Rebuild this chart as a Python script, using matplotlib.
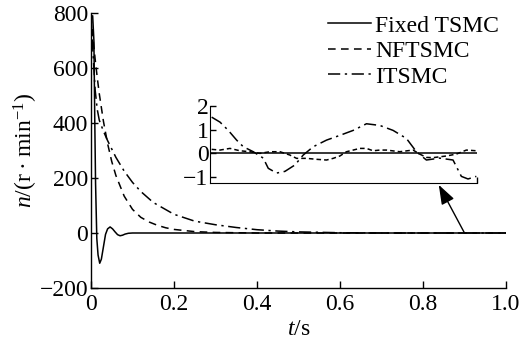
import matplotlib
matplotlib.use("Agg")
import matplotlib.pyplot as plt
import numpy as np

plt.rcParams['font.family'] = ['Liberation Serif', 'DejaVu Serif']
plt.rcParams['mathtext.fontset'] = 'custom'
plt.rcParams['mathtext.rm'] = 'Liberation Serif'
plt.rcParams['mathtext.it'] = 'Liberation Serif:italic'
plt.rcParams['font.size'] = 17

# ---- main data ----
t_fixed = [0, 0.004, 0.007, 0.009, 0.011, 0.014, 0.017, 0.021, 0.025, 0.03, 0.035,
           0.04, 0.046, 0.052, 0.058, 0.064, 0.07, 0.076, 0.082, 0.09, 0.1, 1.0]
n_fixed = [780, 790, 700, 420, 180, -20, -80, -110, -95, -50, -5,
           15, 22, 15, 4, -6, -10, -8, -4, -1, 0, 0]

t_nft = [0, 0.005, 0.01, 0.015, 0.02, 0.03, 0.04, 0.05, 0.06, 0.08, 0.1, 0.12,
         0.14, 0.16, 0.18, 0.2, 0.25, 0.3, 0.35, 0.4, 0.5, 1.0]
n_nft = [790, 708, 632, 566, 506, 406, 325, 260, 209, 134, 86, 57,
         40, 28, 19, 13, 5, 2, 1, 0, 0, 0]

t_its = [0, 0.005, 0.01, 0.015, 0.02, 0.03, 0.04, 0.06, 0.08, 0.1, 0.12, 0.15,
         0.2, 0.25, 0.3, 0.35, 0.4, 0.45, 0.5, 0.6, 0.7, 1.0]
n_its = [790, 650, 520, 450, 410, 370, 336, 275, 225, 184, 151, 111,
         68, 43, 30, 20, 12, 7, 4, 1, 0, 0]

# ---- inset data (position in zoom window, value) ----
z_its_x = [35, 60, 85, 110, 130, 160, 190, 205, 230, 255, 285, 310, 340, 380, 420,
           460, 500, 540, 580, 620, 650, 680, 720, 760, 785, 805, 830]
z_its_y = [1.53, 1.32, 0.97, 0.56, 0.28, 0.07, -0.2, -0.63, -0.83, -0.76, -0.49, -0.07,
           0.28, 0.56, 0.76, 0.97, 1.25, 1.18, 0.97, 0.63, 0.07, -0.28, -0.2, -0.28,
           -0.97, -1.08, -0.97]
z_nft_x = [35, 60, 90, 120, 150, 180, 210, 240, 270, 290, 320, 350, 380, 400, 420,
           440, 460, 480, 500, 520, 540, 560, 600, 640, 660, 680, 700, 740, 770, 800, 830]
z_nft_y = [0.17, 0.14, 0.21, 0.11, 0.07, 0.0, 0.07, 0.07, -0.07, -0.21, -0.21, -0.25,
           -0.28, -0.21, -0.11, 0.07, 0.14, 0.21, 0.21, 0.11, 0.14, 0.14, 0.07, 0.14,
           -0.03, -0.17, -0.18, -0.11, -0.03, 0.14, 0.11]

fig = plt.figure(figsize=(5.28, 3.44), dpi=100)
ax = fig.add_axes([91/528, 1-288/344, 415/528, 275/344])

dash = (0, (5, 3.5))
dashdot = (0, (8, 3, 1.5, 3))
lw = 1.1
ax.plot(t_fixed, n_fixed, color='black', lw=lw, label='Fixed TSMC')
ax.plot(t_nft, n_nft, color='black', lw=lw, linestyle=dash, label='NFTSMC')
ax.plot(t_its, n_its, color='black', lw=lw, linestyle=dashdot, label='ITSMC')

ax.set_xlim(0, 1.0)
ax.set_ylim(-200, 800)
ax.set_xticks([0, 0.2, 0.4, 0.6, 0.8, 1.0])
ax.set_xticklabels(['0', '0.2', '0.4', '0.6', '0.8', '1.0'])
ax.set_yticks([-200, 0, 200, 400, 600, 800])
ax.spines['top'].set_visible(False)
ax.spines['right'].set_visible(False)
for s in ['left', 'bottom']:
    ax.spines[s].set_linewidth(1.0)
ax.tick_params(direction='in', length=5, width=1.0, pad=2)
ax.tick_params(axis='x', pad=4)
ax.set_xlabel(r'$t$/s', labelpad=3)
ax.set_ylabel('$n$/(r\u2009·\u2009min$^{-1}$)', labelpad=0)

leg = ax.legend(loc='upper left', bbox_to_anchor=(328/528, 1-15/344),
                bbox_transform=fig.transFigure, frameon=False, borderpad=0,
                borderaxespad=0, handlelength=1.8, handletextpad=0.2,
                labelspacing=0.17)

# inset
ax2 = fig.add_axes([210/528, 1-183/344, 267/528, 77/344])
zx_its = [(x-30)/802 for x in z_its_x]
zx_nft = [(x-30)/802 for x in z_nft_x]
ax2.plot([0, 1], [0, 0], color='black', lw=lw)
ax2.plot(zx_nft, z_nft_y, color='black', lw=lw, linestyle=(0, (3, 2)))
ax2.plot(zx_its, z_its_y, color='black', lw=lw, linestyle=dashdot)
ax2.set_xlim(0, 1)
ax2.set_ylim(-1.25, 2)
ax2.set_yticks([-1, 0, 1, 2])
ax2.set_xticks([1])
ax2.set_xticklabels([])
ax2.patch.set_alpha(0)
ax2.spines['top'].set_visible(False)
ax2.spines['right'].set_visible(False)
ax2.tick_params(direction='in', length=4, width=1.0, pad=1)

# arrow from curve to inset
ax.annotate('', xy=(0.838, 175), xytext=(0.9, 0),
            arrowprops=dict(arrowstyle='-|>,head_length=0.7,head_width=0.25',
                            color='black', lw=1.0, shrinkA=0, shrinkB=0))

fig.savefig('out.png', dpi=100)
